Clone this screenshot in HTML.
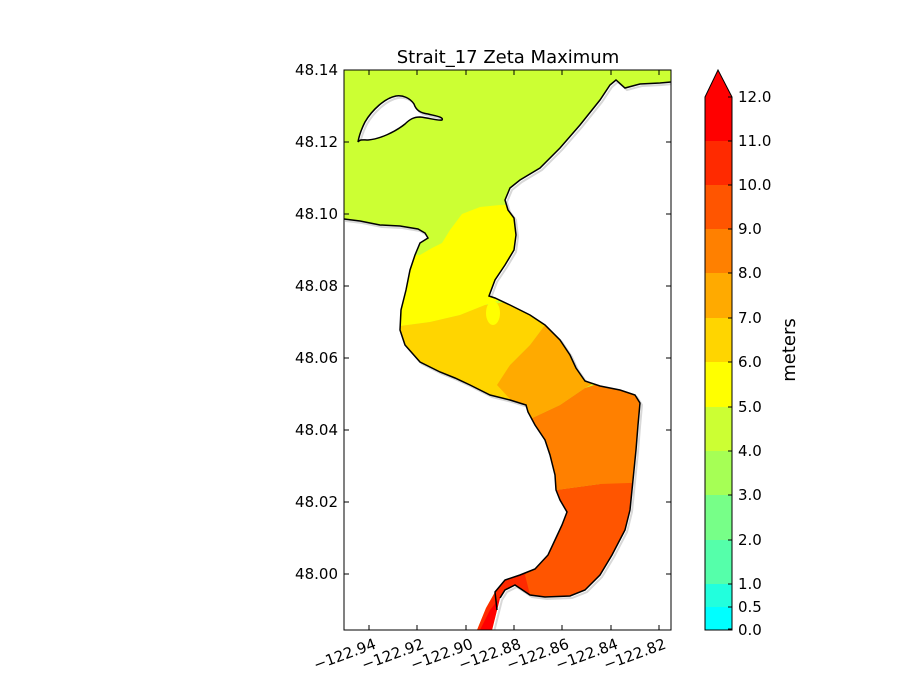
<!DOCTYPE html>
<html><head><meta charset="utf-8"><style>
body{margin:0;background:#fff;}
svg{display:block;font-family:"DejaVu Sans","Liberation Sans",sans-serif;}
</style></head><body>
<svg width="900" height="700" viewBox="0 0 900 700" xmlns="http://www.w3.org/2000/svg">
<defs>
<clipPath id="water"><path id="wp" d="M344,70 L671,70 L671,82 L660,83 L640,84 L625,88 L616,80 L610,85 L600,100 L580,125 L560,148 L540,168 L520,180 L510,188 L505,200 L508,210 L514,218 L516,235 L514,250 L505,265 L495,280 L489,296 L495,298 L510,305 L530,315 L545,325 L560,340 L570,355 L576,368 L585,381 L600,386 L620,390 L635,395 L640,403 L638,425 L636,450 L633,480 L630,510 L625,530 L612,555 L600,575 L585,590 L570,596 L545,597 L530,595 L515,585 L505,590 L500,598 L497,610 L492,630 L477,630 L486,608 L495,592 L505,580 L520,575 L535,569 L548,555 L555,540 L562,525 L567,512 L560,500 L556,490 L555,475 L550,455 L545,440 L535,425 L528,412 L526,405 L510,400 L490,395 L470,385 L455,378 L440,372 L420,362 L405,345 L400,330 L401,310 L406,290 L410,270 L415,255 L420,243 L428,238 L425,233 L418,229 L400,226 L380,225 L360,221 L344,219 Z M358,142 C360,139 363,140 368,140 C380,139 395,132 405,124 C410,119 414,117 420,117 C430,118 438,121 442,120 C444,117 436,116 428,114 C420,113 416,110 414,104 C410,98 403,95 396,96 C385,98 372,110 365,122 C361,130 359,136 358,142 Z" clip-rule="evenodd"/></clipPath>
<clipPath id="plotclip"><rect x="344" y="70" width="327" height="560"/></clipPath>
</defs>
<rect x="344" y="70" width="327" height="560" fill="#fff"/>
<g clip-path="url(#plotclip)">
<use href="#wp" fill="none" stroke="#d8d8d8" stroke-width="2" transform="translate(2,2)"/>
</g>
<g clip-path="url(#water)">
<rect x="344" y="70" width="327" height="560" fill="#ccff33"/>
<path d="M420,255 L432,248 L442,243 L450,230 L462,214 L480,207 L500,205 L530,205 L560,300 L500,300 L485,305 L460,315 L430,322 L400,326 L380,330 L380,255 Z" fill="#ffff00"/>
<path d="M380,326 L400,326 L430,322 L460,315 L485,305 L520,300 L560,310 L545,325 L530,345 L510,365 L500,385 L520,410 L380,410 Z" fill="#ffd500"/>
<ellipse cx="493" cy="313" rx="7" ry="12" fill="#ffff00"/>
<path d="M545,325 L530,345 L510,365 L497,385 L520,410 L528,420 L560,405 L585,388 L600,380 L580,340 Z" fill="#ffaa00"/>
<path d="M528,420 L560,405 L585,388 L610,380 L660,380 L660,485 L600,484 L556,490 L540,440 Z" fill="#ff8000"/>
<path d="M556,490 L600,484 L660,482 L660,620 L530,620 L520,560 Z" fill="#ff5500"/>
<path d="M534,560 L525,575 L530,595 L540,600 L490,640 L460,640 L480,570 Z" fill="#ff2a00"/>
<path d="M498,600 L505,590 L500,630 L480,630 L490,610 Z" fill="#ff0000"/>
</g>
<g clip-path="url(#plotclip)">
<path d="M344,219 L360,221 L380,225 L400,226 L418,229 L425,233 L428,238 L420,243 L415,255 L410,270 L406,290 L401,310 L400,330 L405,345 L420,362 L440,372 L455,378 L470,385 L490,395 L510,400 L526,405 L528,412 L535,425 L545,440 L550,455 L555,475 L556,490 L560,500 L567,512 L562,525 L555,540 L548,555 L535,569 L520,575 L505,580 L495,592 L497,610" fill="none" stroke="#000" stroke-width="1.5"/>
<path d="M671,82 L660,83 L640,84 L625,88 L616,80 L610,85 L600,100 L580,125 L560,148 L540,168 L520,180 L510,188 L505,200 L508,210 L514,218 L516,235 L514,250 L505,265 L495,280 L489,296 L495,298 L510,305 L530,315 L545,325 L560,340 L570,355 L576,368 L585,381 L600,386 L620,390 L635,395 L640,403 L638,425 L636,450 L633,480 L630,510 L625,530 L612,555 L600,575 L585,590 L570,596 L545,597 L530,595 L515,585 L505,590 L500,598" fill="none" stroke="#000" stroke-width="1.5"/>
<path d="M358,142 C360,139 363,140 368,140 C380,139 395,132 405,124 C410,119 414,117 420,117 C430,118 438,121 442,120 C444,117 436,116 428,114 C420,113 416,110 414,104 C410,98 403,95 396,96 C385,98 372,110 365,122 C361,130 359,136 358,142 Z" fill="none" stroke="#000" stroke-width="1.5"/>
</g>
<rect x="344" y="70" width="327" height="560" fill="none" stroke="#000" stroke-width="1"/>
<g stroke="#000" stroke-width="1">
<path d="M369,630v-5M417,630v-5M466,630v-5M514,630v-5M562,630v-5M611,630v-5M659,630v-5M369,70v5M417,70v5M466,70v5M514,70v5M562,70v5M611,70v5M659,70v5"/>
<path d="M344,70h5M344,142h5M344,214h5M344,286h5M344,358h5M344,430h5M344,502h5M344,574h5M671,142h-5M671,214h-5M671,286h-5M671,358h-5M671,430h-5M671,502h-5M671,574h-5"/>
</g>
<g font-size="15" fill="#000" text-anchor="end">
<text x="338" y="75">48.14</text><text x="338" y="147">48.12</text><text x="338" y="219">48.10</text><text x="338" y="291">48.08</text><text x="338" y="363">48.06</text><text x="338" y="435">48.04</text><text x="338" y="507">48.02</text><text x="338" y="579">48.00</text>
</g>
<g font-size="15" fill="#000" text-anchor="end">
<text transform="translate(377,648) rotate(-20)">−122.94</text>
<text transform="translate(425,648) rotate(-20)">−122.92</text>
<text transform="translate(474,648) rotate(-20)">−122.90</text>
<text transform="translate(522,648) rotate(-20)">−122.88</text>
<text transform="translate(570,648) rotate(-20)">−122.86</text>
<text transform="translate(619,648) rotate(-20)">−122.84</text>
<text transform="translate(667,648) rotate(-20)">−122.82</text>
</g>
<text x="508" y="63" font-size="18" text-anchor="middle">Strait_17 Zeta Maximum</text>
<g>
<rect x="705" y="607" width="27" height="23" fill="#00ffff"/>
<rect x="705" y="584" width="27" height="23" fill="#22ffdd"/>
<rect x="705" y="540" width="27" height="44" fill="#55ffaa"/>
<rect x="705" y="495" width="27" height="45" fill="#77ff88"/>
<rect x="705" y="451" width="27" height="44" fill="#a6ff55"/>
<rect x="705" y="407" width="27" height="44" fill="#ccff33"/>
<rect x="705" y="362" width="27" height="45" fill="#ffff00"/>
<rect x="705" y="318" width="27" height="44" fill="#ffd500"/>
<rect x="705" y="273" width="27" height="45" fill="#ffaa00"/>
<rect x="705" y="229" width="27" height="44" fill="#ff8000"/>
<rect x="705" y="185" width="27" height="44" fill="#ff5500"/>
<rect x="705" y="141" width="27" height="44" fill="#ff2a00"/>
<path d="M705,141 L705,97 L718,70 L732,97 L732,141 Z" fill="#ff0000"/>
<path d="M705,630 L705,97 L718,70 L732,97 L732,630 Z" fill="none" stroke="#000" stroke-width="1"/>
<path d="M732,97h-4M732,141h-4M732,185h-4M732,229h-4M732,273h-4M732,318h-4M732,362h-4M732,407h-4M732,451h-4M732,495h-4M732,540h-4M732,584h-4M732,607h-4M732,629h-4" stroke="#000"/>
</g>
<g font-size="15" fill="#000">
<text x="738" y="102">12.0</text><text x="738" y="146">11.0</text><text x="738" y="190">10.0</text><text x="738" y="234">9.0</text><text x="738" y="278">8.0</text><text x="738" y="323">7.0</text><text x="738" y="367">6.0</text><text x="738" y="412">5.0</text><text x="738" y="456">4.0</text><text x="738" y="500">3.0</text><text x="738" y="545">2.0</text><text x="738" y="589">1.0</text><text x="738" y="612">0.5</text><text x="738" y="635">0.0</text>
</g>
<text transform="translate(795,350) rotate(-90)" font-size="18" text-anchor="middle">meters</text>
</svg>
</body></html>
